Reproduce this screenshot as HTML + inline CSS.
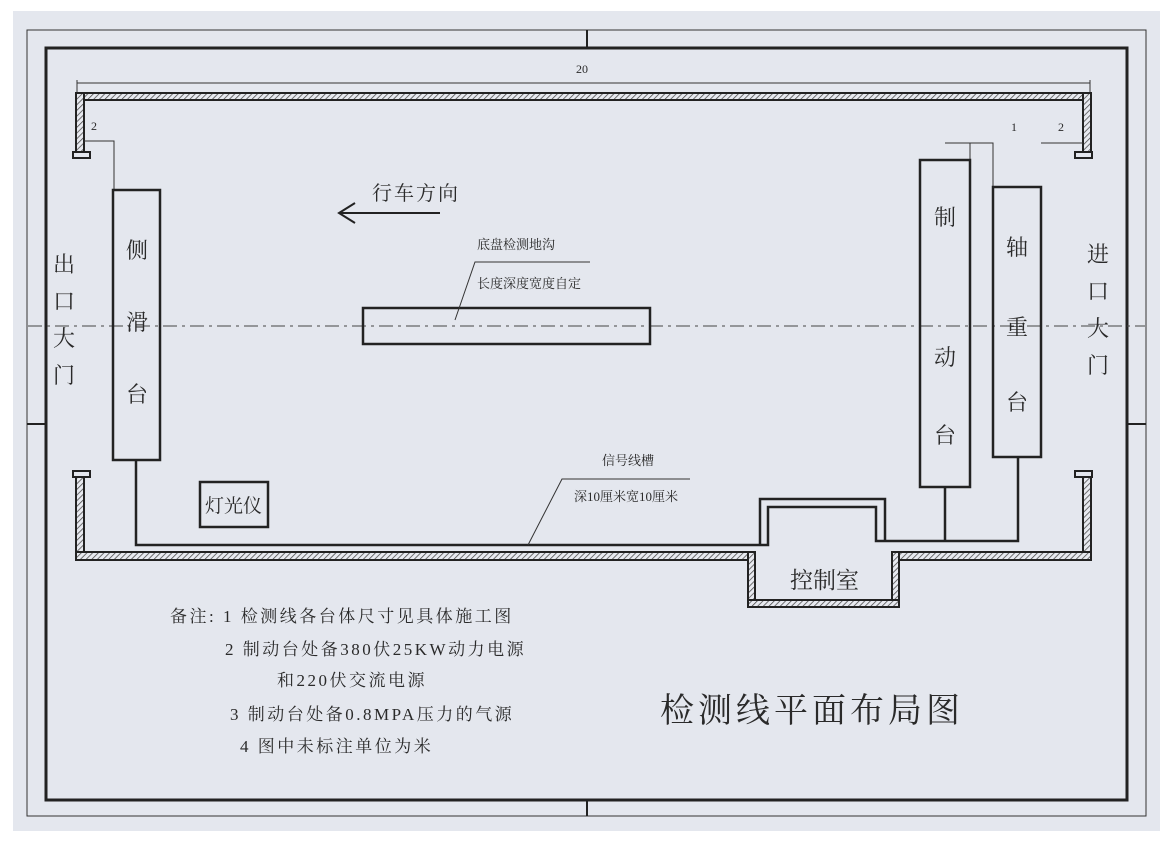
<!DOCTYPE html>
<html><head><meta charset="utf-8"><style>
html,body{margin:0;padding:0;background:#fff;}
svg{display:block;}
text{font-family:"Liberation Serif","Noto Serif CJK SC","Noto Sans CJK SC",serif;fill:#2a2a2a;}
</style></head><body>
<svg width="1169" height="850" viewBox="0 0 1169 850" xmlns="http://www.w3.org/2000/svg">
<defs>
<pattern id="h" width="4" height="4" patternUnits="userSpaceOnUse" patternTransform="rotate(45)">
<rect width="4" height="4" fill="#e8eaf0"/><line x1="0" y1="0" x2="0" y2="4" stroke="#444" stroke-width="1.5"/>
</pattern>
</defs>
<rect x="0" y="0" width="1169" height="850" fill="#fff"/>
<rect x="13" y="11" width="1147" height="820" fill="#e4e7ee"/>
<!-- borders -->
<rect x="27" y="30" width="1119" height="786" fill="none" stroke="#333" stroke-width="1"/>
<rect x="46" y="48" width="1081" height="752" fill="none" stroke="#222" stroke-width="3"/>
<line x1="587" y1="30" x2="587" y2="48" stroke="#222" stroke-width="2"/>
<line x1="587" y1="800" x2="587" y2="816" stroke="#222" stroke-width="2"/>
<line x1="27" y1="424" x2="46" y2="424" stroke="#222" stroke-width="2"/>
<line x1="1127" y1="424" x2="1146" y2="424" stroke="#222" stroke-width="2"/>
<!-- dimension -->
<line x1="77" y1="83" x2="1090" y2="83" stroke="#333" stroke-width="1"/>
<line x1="77" y1="80" x2="77" y2="93" stroke="#333" stroke-width="1"/>
<line x1="1090" y1="80" x2="1090" y2="93" stroke="#333" stroke-width="1"/>
<text x="576" y="73" font-size="12">20</text>
<!-- walls hatched -->
<g fill="url(#h)" stroke="#222" stroke-width="2">
<rect x="76" y="93" width="1015" height="7"/>
<rect x="76" y="93" width="8" height="65"/>
<rect x="1083" y="93" width="8" height="65"/>
<rect x="76" y="472" width="8" height="88"/>
<rect x="1083" y="472" width="8" height="88"/>
<rect x="76" y="552" width="679" height="8"/>
<rect x="892" y="552" width="199" height="8"/>
<rect x="748" y="552" width="7" height="55"/>
<rect x="892" y="552" width="7" height="55"/>
<rect x="748" y="600" width="151" height="7"/>
</g>
<rect x="85" y="101" width="997" height="450" fill="#e4e7ee"/>
<!-- door marks -->
<g fill="#e4e7ee" stroke="#222" stroke-width="2">
<rect x="73" y="152" width="17" height="6"/><rect x="73" y="471" width="17" height="6"/>
<rect x="1075" y="152" width="17" height="6"/><rect x="1075" y="471" width="17" height="6"/>
</g>
<!-- centerline -->
<line x1="28" y1="326" x2="1145" y2="326" stroke="#444" stroke-width="1" stroke-dasharray="14,5,3,5"/>
<!-- small dims -->
<g stroke="#333" stroke-width="1" fill="none">
<path d="M84,141 H114 V190"/>
<path d="M945,143 H993 V187"/><path d="M970,143 V160"/>
<path d="M1041,143 H1083"/>
</g>
<text x="91" y="130" font-size="12">2</text>
<text x="1011" y="131" font-size="12">1</text>
<text x="1058" y="131" font-size="12">2</text>
<!-- equipment -->
<g fill="none" stroke="#222" stroke-width="2.5">
<rect x="113" y="190" width="47" height="270"/>
<rect x="920" y="160" width="50" height="327"/>
<rect x="993" y="187" width="48" height="270"/>
<rect x="363" y="308" width="287" height="36"/>
<rect x="200" y="482" width="68" height="45"/>
</g>
<!-- wires -->
<g fill="none" stroke="#222" stroke-width="2.5">
<path d="M136,460 V545 H768 V507 H876 V541 H1018 V457"/>
<path d="M945,487 V541"/>
<path d="M760,545 V499 H885 V541"/>
</g>
<!-- leaders -->
<g stroke="#333" stroke-width="1" fill="none">
<path d="M455,320 L475,262 H590"/>
<path d="M528,545 L562,479 H690"/>
</g>
<!-- arrow -->
<line x1="340" y1="213" x2="440" y2="213" stroke="#222" stroke-width="2"/>
<path d="M355,203 L339,213 L355,223" fill="none" stroke="#222" stroke-width="2"/>
<text x="372" y="200" font-size="20" letter-spacing="2">行车方向</text>
<text x="477" y="249" font-size="13">底盘检测地沟</text>
<text x="477" y="288" font-size="13">长度深度宽度自定</text>
<text x="602" y="465" font-size="13">信号线槽</text>
<text x="574" y="501" font-size="13">深10厘米宽10厘米</text>
<g font-size="22">
<text x="126" y="258">侧</text><text x="126" y="330">滑</text><text x="126" y="402">台</text>
<text x="934" y="225">制</text><text x="934" y="365">动</text><text x="934" y="443">台</text>
<text x="1006" y="255">轴</text><text x="1006" y="335">重</text><text x="1006" y="410">台</text>
<text x="53" y="272">出</text><text x="53" y="309">口</text><text x="53" y="346">大</text><text x="53" y="383">门</text>
<text x="1087" y="262">进</text><text x="1087" y="299">口</text><text x="1087" y="336">大</text><text x="1087" y="373">门</text>
</g>
<text x="205" y="512" font-size="19">灯光仪</text>
<text x="790" y="588" font-size="23">控制室</text>
<g font-size="17" letter-spacing="2.5">
<text x="170" y="622">备注: 1  检测线各台体尺寸见具体施工图</text>
<text x="225" y="655">2  制动台处备380伏25KW动力电源</text>
<text x="277" y="686">和220伏交流电源</text>
<text x="230" y="720">3  制动台处备0.8MPA压力的气源</text>
<text x="240" y="752">4  图中未标注单位为米</text>
</g>
<text x="660" y="722" font-size="34" letter-spacing="4">检测线平面布局图</text>
</svg>
</body></html>
